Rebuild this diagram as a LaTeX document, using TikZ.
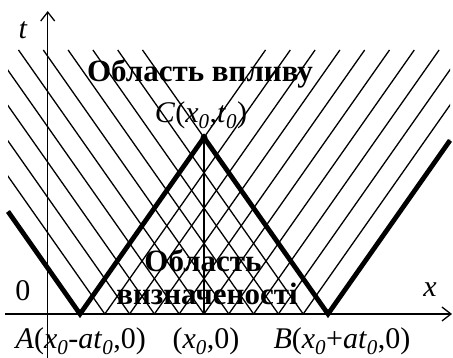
\documentclass[tikz,border=0pt]{standalone}
\usepackage{fontspec}
\setmainfont{Liberation Serif}
\usetikzlibrary{arrows.meta}
\newcommand{\ix}[1]{\textsubscript{\itshape #1}}

\begin{document}
\begin{tikzpicture}[x=1pt, y=1pt, line width=1.3pt, >={Straight Barb[length=9pt,width=14pt]},
  lbl/.style={inner sep=0pt, font=\fontsize{30}{36}\selectfont},
  boldlbl/.style={inner sep=0pt, font=\fontsize{31}{36}\selectfont\bfseries},
  bound/.style={line width=4.8pt, line join=miter}]
\useasboundingbox (0,0) rectangle (453,358);
\coordinate (A) at (80,44);
\coordinate (B) at (328,44);
\coordinate (C) at (204,220.5);
\coordinate (C0) at (204,44);
\coordinate (L) at (8,146.5);
\coordinate (R) at (450,217.6);
\coordinate (ybot) at (47.7,0);
\coordinate (ytop) at (47.7,347);
\coordinate (xleft) at (5,44);
\coordinate (xright) at (452,44);
\begin{scope}
\clip (8,44) rectangle (450,308);
\foreach \i in {0,...,10}{
  \pgfmathsetmacro{\xo}{80+24.8*\i}
  \draw (\xo,44) -- ++(-185.5,264);
  \draw (\xo,44) -- ++(185.5,264);
}
\end{scope}
\draw (C) -- (C0);
\draw[->] (ybot) -- (ytop);
\draw[->] (xleft) -- (xright);
\draw[bound] (L) -- (A) -- (C) -- (B) -- (R);
\fill (C) circle (3.5pt);
\node[lbl] (tlab) at (23,328) {\textit{t}};
\node[lbl] (xlab) at (430,68) {\textit{x}};
\node[lbl] (zero) at (23,67) {0};
\node[boldlbl, anchor=base] (infl) at (200,276) {Область впливу};
\node[lbl, anchor=base] (Clab) at (201,235) {\textit{C}(\textit{x}\ix{0},\textit{t}\ix{0})};
\node[boldlbl, anchor=base] (dep1) at (203,86) {Область};
\node[boldlbl, anchor=base] (dep2) at (207,53) {визначеності};
\node[lbl, anchor=base west] (Alab) at (15,9) {\textit{A}(\textit{x}\ix{0}-\textit{at}\ix{0},0)};
\node[lbl, anchor=base] (Olab) at (206,9) {(\textit{x}\ix{0},0)};
\node[lbl, anchor=base] (Blab) at (342,9) {\textit{B}(\textit{x}\ix{0}+\textit{at}\ix{0},0)};
\end{tikzpicture}
\end{document}
